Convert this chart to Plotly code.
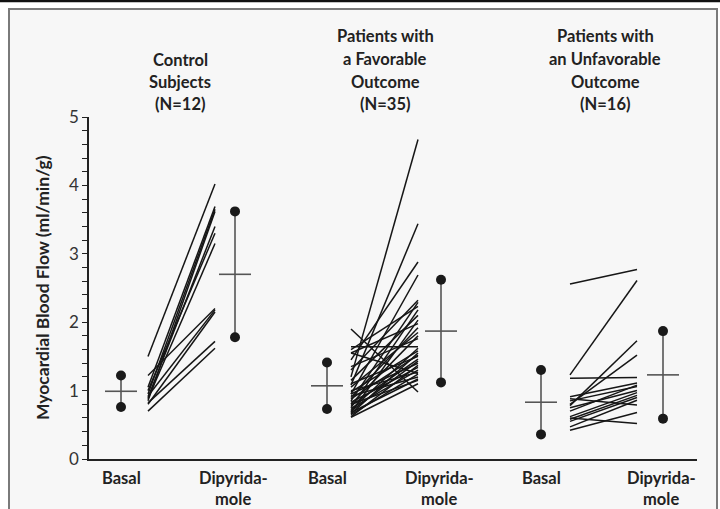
import plotly.graph_objects as go

# ---------------- data ----------------
groups = ["Control\nSubjects\n(N=12)",
          "Patients with\na Favorable\nOutcome\n(N=35)",
          "Patients with\nan Unfavorable\nOutcome\n(N=16)"]
conditions = ["Basal", "Dipyrida-\nmole"]

control_basal = [1.50, 1.05, 0.95, 0.85, 0.90, 1.00, 0.88, 1.22, 0.80, 0.92, 0.82, 0.70]
control_dipyr = [4.02, 3.69, 3.65, 3.62, 3.40, 3.30, 3.15, 2.20, 2.15, 2.18, 1.72, 1.62]

favorable_basal = [1.20, 1.08, 1.45, 0.95, 1.30, 0.85, 1.60, 0.75, 1.15, 0.68,
                   1.55, 0.90, 1.05, 0.80, 1.35, 1.64, 0.72, 0.98, 0.66, 0.88,
                   1.10, 0.78, 0.70, 0.95, 0.62, 0.83, 0.74, 1.00, 0.65, 0.92,
                   0.68, 0.80, 1.90, 1.55, 0.61]
favorable_dipyr = [4.67, 3.44, 2.88, 2.69, 2.32, 2.29, 2.23, 2.18, 2.10, 2.03,
                   1.98, 1.92, 1.85, 1.80, 1.76, 1.64, 1.62, 1.58, 1.55, 1.52,
                   1.50, 1.46, 1.43, 1.40, 1.37, 1.34, 1.30, 1.27, 1.24, 1.20,
                   1.17, 1.15, 0.98, 1.25, 1.10]

unfavorable_basal = [2.56, 1.23, 1.18, 0.78, 0.80, 0.91, 0.88, 0.85,
                     0.75, 0.70, 0.62, 0.58, 0.55, 0.60, 0.47, 0.42]
unfavorable_dipyr = [2.77, 2.61, 1.19, 1.73, 1.52, 1.11, 0.79, 1.06,
                     1.00, 1.08, 0.97, 0.93, 0.90, 0.52, 0.86, 0.68]

# mean and SD per group (basal, dipyridamole)
mean_basal = [0.99, 1.07, 0.83]
sd_basal = [0.23, 0.34, 0.47]
mean_dipyr = [2.70, 1.87, 1.23]
sd_dipyr = [0.92, 0.75, 0.64]

y_ticks = [0, 1, 2, 3, 4, 5]
y_title = "Myocardial Blood Flow (ml/min/g)"

# ---------------- layout constants (pixel-based) ----------------
W, H = 720, 509
L, R, T, B = 89, 23, 117, 50
PW, PH = W - L - R, H - T - B

def xp(px):  # figure pixel -> x data (x axis spans plot pixels)
    return px - L

def pxp(px):  # figure pixel -> paper x
    return (px - L) / PW

def pyp(py):  # figure pixel -> paper y
    return (H - B - py) / PH

basal_mark_px = [121, 327, 541]
line_start_px = [148, 351, 570]
line_end_px = [215, 418, 637]
dipyr_mark_px = [235, 441, 663]
title_center_px = [180, 385, 605]
title_line_px = {3: [60, 82, 104], 4: [36, 59, 82, 104]}
half_mean = 16

FONT = "Lato, 'Open Sans', sans-serif"
TXT = "#222222"
pairs = [(control_basal, control_dipyr),
         (favorable_basal, favorable_dipyr),
         (unfavorable_basal, unfavorable_dipyr)]

fig = go.Figure()

# individual lines
for g, (b, d) in enumerate(pairs):
    xs, ys = [], []
    for vb, vd in zip(b, d):
        xs += [xp(line_start_px[g]), xp(line_end_px[g]), None]
        ys += [vb, vd, None]
    fig.add_trace(go.Scatter(x=xs, y=ys, mode="lines",
                             line=dict(color="#161616", width=1.5),
                             hoverinfo="skip", showlegend=False))

# mean +/- SD markers
for g in range(3):
    for cx, m, s in [(basal_mark_px[g], mean_basal[g], sd_basal[g]),
                     (dipyr_mark_px[g], mean_dipyr[g], sd_dipyr[g])]:
        fig.add_trace(go.Scatter(x=[xp(cx), xp(cx)], y=[m - s, m + s],
                                 mode="lines", line=dict(color="#555555", width=1.6),
                                 hoverinfo="skip", showlegend=False))
        fig.add_trace(go.Scatter(x=[xp(cx - half_mean), xp(cx + half_mean)], y=[m, m],
                                 mode="lines", line=dict(color="#555555", width=1.6),
                                 hoverinfo="skip", showlegend=False))
        fig.add_trace(go.Scatter(x=[xp(cx), xp(cx)], y=[m - s, m + s],
                                 mode="markers", marker=dict(color="#1a1a1a", size=10),
                                 hoverinfo="skip", showlegend=False))

annotations = []
# group titles
for g, title in enumerate(groups):
    lines = title.split("\n")
    for i, txt in enumerate(lines):
        annotations.append(dict(text=f"<b>{txt}</b>", x=pxp(title_center_px[g]),
                                y=pyp(title_line_px[len(lines)][i]),
                                xref="paper", yref="paper", showarrow=False,
                                xanchor="center", yanchor="middle",
                                font=dict(family=FONT, size=16.5, color=TXT)))
# category labels
for g in range(3):
    annotations.append(dict(text=f"<b>{conditions[0]}</b>", x=pxp(basal_mark_px[g]),
                            y=pyp(478), xref="paper", yref="paper", showarrow=False,
                            xanchor="center", yanchor="middle",
                            font=dict(family=FONT, size=16.5, color=TXT)))
    for i, txt in enumerate(conditions[1].split("\n")):
        annotations.append(dict(text=f"<b>{txt}</b>", x=pxp(dipyr_mark_px[g] - 2),
                                y=pyp(478 + 21 * i), xref="paper", yref="paper",
                                showarrow=False, xanchor="center", yanchor="middle",
                                font=dict(family=FONT, size=16.5, color=TXT)))
# y title
annotations.append(dict(text=f"<b>{y_title}</b>", x=pxp(42), y=pyp(288),
                        xref="paper", yref="paper", showarrow=False, textangle=-90,
                        xanchor="center", yanchor="middle",
                        font=dict(family=FONT, size=17.5, color=TXT)))

shapes = [
    # inner light background with grey frame
    dict(type="rect", xref="paper", yref="paper", x0=pxp(9), x1=pxp(717),
         y0=pyp(515), y1=pyp(9), fillcolor="#f7f7f7",
         line=dict(color="#7a7a7a", width=2), layer="below"),
    # top black rule
    dict(type="line", xref="paper", yref="paper", x0=pxp(0), x1=pxp(720),
         y0=pyp(1), y1=pyp(1), line=dict(color="#111111", width=2.5)),
]

fig.update_layout(
    width=W, height=H,
    margin=dict(l=L, r=R, t=T, b=B),
    paper_bgcolor="white", plot_bgcolor="rgba(0,0,0,0)",
    showlegend=False,
    annotations=annotations, shapes=shapes,
    xaxis=dict(range=[0, PW], showgrid=False, zeroline=False, showticklabels=False,
               ticks="", showline=True, linecolor="#222222", linewidth=1.5,
               fixedrange=True),
    yaxis=dict(range=[0, 5], showgrid=False, zeroline=False, showline=True,
               linecolor="#222222", linewidth=1.5,
               tickmode="array", tickvals=y_ticks, ticks="outside", ticklen=5,
               tickwidth=1.2, tickcolor="#222222",
               tickfont=dict(family=FONT, size=17, color="#333333"),
               minor=dict(dtick=0.2, ticks="outside", ticklen=5, tickwidth=1,
                          tickcolor="#222222", showgrid=False),
               fixedrange=True),
)

fig.write_html("out.html")
